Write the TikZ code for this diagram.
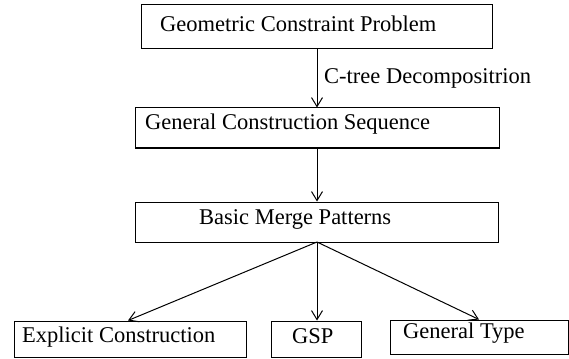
\documentclass[tikz,border=0pt]{standalone}
\usepackage{fontspec}
\setmainfont{Liberation Serif}
\usetikzlibrary{arrows.meta}
\begin{document}
\begin{tikzpicture}[x=1pt,y=-1pt,
  box/.style={draw,line width=1pt,inner sep=0pt,minimum width=#1},
  txt/.style={anchor=base west,inner sep=0pt,font=\fontsize{22.5}{27}\selectfont},
  arr/.style={line width=1pt,-{Straight Barb[length=9pt,width=11pt,line width=1pt]}}]
\useasboundingbox (0,0) rectangle (569,358);
% boxes
\node[box=351pt,minimum height=44pt] (b1) at (316.5,27) {};
\node[box=364pt,minimum height=40pt] (b2) at (317,128) {};
\node[box=363pt,minimum height=40pt] (b3) at (316.5,222) {};
\node[box=232pt,minimum height=36pt] (e) at (130,339) {};
\node[box=90pt,minimum height=36pt] (g) at (316,339) {};
\node[box=178pt,minimum height=34pt] (t) at (479,337) {};
% texts
\node[txt] (t1) at (160,32) {Geometric Constraint Problem};
\node[txt] (lab) at (324,84) {C-tree Decompositrion};
\node[txt] (t2) at (145,130) {General Construction Sequence};
\node[txt] (t3) at (199,224) {Basic Merge Patterns};
\node[txt] (te) at (22,342) {Explicit Construction};
\node[txt] (tg) at (292,343) {GSP};
\node[txt] (tt) at (403,338) {General Type};
% connectors
\coordinate (s1) at (317,49);
\coordinate (s2) at (317,148);
\coordinate (s3) at (317,242);
\draw[arr] (s1) -- (s1 |- b2.north);
\draw[arr] (s2) -- (s2 |- b3.north);
\draw[arr] (s3) -- ([xshift=-2pt]e.north);
\draw[arr] (s3) -- (s3 |- g.north);
\draw[arr] (s3) -- (t.north);
\end{tikzpicture}
\end{document}
